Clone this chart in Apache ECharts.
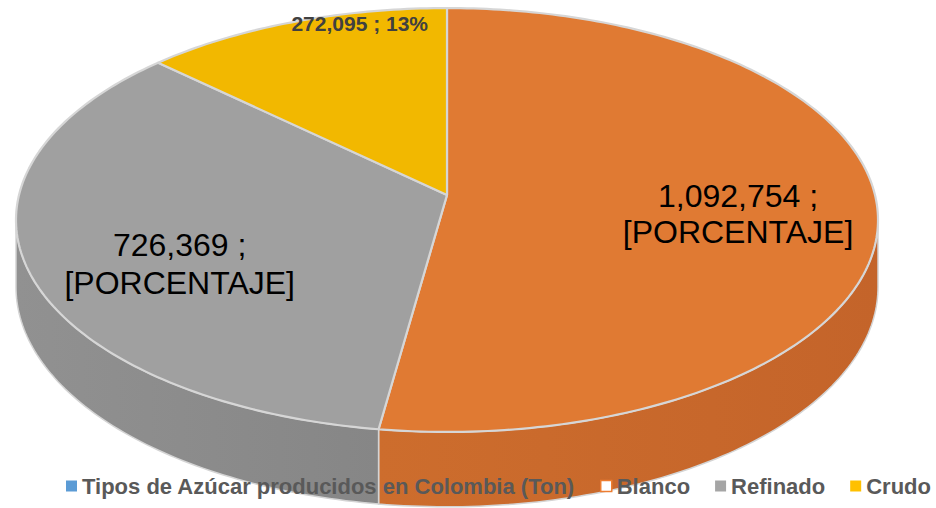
<!DOCTYPE html>
<html><head><meta charset="utf-8">
<script src="https://cdn.jsdelivr.net/npm/echarts@6/dist/echarts.min.js"></script>
<style>html,body{margin:0;padding:0;background:#fff}#c{width:936px;height:508px}</style>
</head><body><div id="c"></div>
<script>
// ---- data ----
const seriesName = 'Tipos de Azúcar producidos en Colombia (Ton)';
const categories = ['Blanco', 'Refinado', 'Crudo'];
const values = [1092754, 726369, 272095];
const labelTails = ['[PORCENTAJE]', '[PORCENTAJE]', null]; // null -> percentage

// ---- styles ----
const topColors = ['#E07A33', '#A0A0A0', '#F2B800'];
const sideColors = [['#CD6D2D', '#C4642A'], ['#919191', '#868686'], ['#D6A200', '#CC9A00']];
const legendColors = ['#5B9BD5', '#FFFFFF', '#A5A5A5', '#FFC000'];
const labelOffsets = [[12, 9], [2, 23], [16, -55]];
const labelStyles = [
  {fontSize: 32, fontWeight: 'normal', fill: '#000000', lineHeight: 36},
  {fontSize: 32, fontWeight: 'normal', fill: '#000000', lineHeight: 38},
  {fontSize: 21, fontWeight: 'bold', fill: '#404040', lineHeight: 22}
];

const CX = 447, CY = 195, RX = 428, RY = 209, PC = 0.118, DEPTH = 66;
function proj(r, deg, h) {
  const t = deg * Math.PI / 180;
  const X = r * Math.sin(t), Z = r * Math.cos(t);
  const s = 1 / (1 + PC * Z);
  return [CX + RX * X * s, CY - RY * Z * s + h * DEPTH * s];
}

const total = values.reduce((a, b) => a + b, 0);
const startAngles = [];
(function () { let acc = 0; values.forEach(v => { startAngles.push(acc / total * 360); acc += v; }); })();
const wallMin = Math.acos(-PC) * 180 / Math.PI, wallMax = 360 - wallMin;

function renderSlice(params, api) {
  const i = params.dataIndex;
  const v = api.value(0);
  const a0 = startAngles[i];
  const a1 = a0 + v / total * 360;
  const children = [];
  // side wall
  const w0 = Math.max(a0, wallMin), w1 = Math.min(a1, wallMax);
  if (w1 > w0) {
    const pts = [];
    const n = Math.max(2, Math.ceil((w1 - w0) / 1));
    for (let k = 0; k <= n; k++) pts.push(proj(1, w0 + (w1 - w0) * k / n, 0));
    for (let k = n; k >= 0; k--) pts.push(proj(1, w0 + (w1 - w0) * k / n, 1));
    children.push({
      type: 'polygon', z2: 1,
      shape: {points: pts},
      style: {
        fill: new echarts.graphic.LinearGradient(0, 0, 1, 0, [
          {offset: 0, color: sideColors[i][0]}, {offset: 1, color: sideColors[i][1]}
        ]),
        stroke: '#D4D4D4', lineWidth: 1.5
      }
    });
  }
  // top face
  const top = [proj(0, 0, 0)];
  const m = Math.max(2, Math.ceil((a1 - a0) / 1));
  for (let k = 0; k <= m; k++) top.push(proj(1, a0 + (a1 - a0) * k / m, 0));
  children.push({
    type: 'polygon', z2: 5,
    shape: {points: top},
    style: {fill: topColors[i], stroke: '#D6D6D6', lineWidth: 2.2, lineJoin: 'round'}
  });
  // label
  const mid = (a0 + a1) / 2;
  const p = proj(0.65, mid, 0);
  const num = v.toLocaleString('en-US');
  const txt = labelTails[i] === null
    ? num + ' ; ' + Math.round(v / total * 100) + '%'
    : num + ' ;\n' + labelTails[i];
  const ls = labelStyles[i];
  children.push({
    type: 'text', z2: 10,
    x: p[0] + labelOffsets[i][0], y: p[1] + labelOffsets[i][1],
    style: {
      text: txt, fill: ls.fill, fontSize: ls.fontSize, fontWeight: ls.fontWeight,
      fontFamily: '"Liberation Sans", Arial, sans-serif', lineHeight: ls.lineHeight,
      align: 'center', verticalAlign: 'middle'
    }
  });
  return {type: 'group', children: children};
}

const chart = echarts.init(document.getElementById('c'), null, {renderer: 'svg'});
const legendNames = [seriesName].concat(categories);
chart.setOption({
  backgroundColor: '#ffffff',
  animation: false,
  legend: {
    left: 66, top: 475, width: 900, padding: 0,
    itemWidth: 11, itemHeight: 11, itemGap: 25, icon: 'rect',
    selectedMode: false,
    textStyle: {fontSize: 22, fontWeight: 'bold', color: '#595959', fontFamily: '"Liberation Sans", Arial, sans-serif'},
    data: legendNames.map((n, k) => ({
      name: n,
      itemStyle: k === 1
        ? {color: legendColors[k], borderColor: '#ED7D31', borderWidth: 1.5}
        : {color: legendColors[k], borderWidth: 0}
    }))
  },
  series: [
    {
      type: 'custom', name: seriesName, coordinateSystem: 'none',
      renderItem: renderSlice,
      data: values.map((v, k) => ({name: categories[k], value: [v]}))
    }
  ].concat(categories.map((c, k) => ({
    type: 'custom', name: c, coordinateSystem: 'none', data: [],
    itemStyle: {color: legendColors[k + 1]},
    renderItem: function () { return {type: 'group', children: []}; }
  })))
});
</script>
</body></html>
